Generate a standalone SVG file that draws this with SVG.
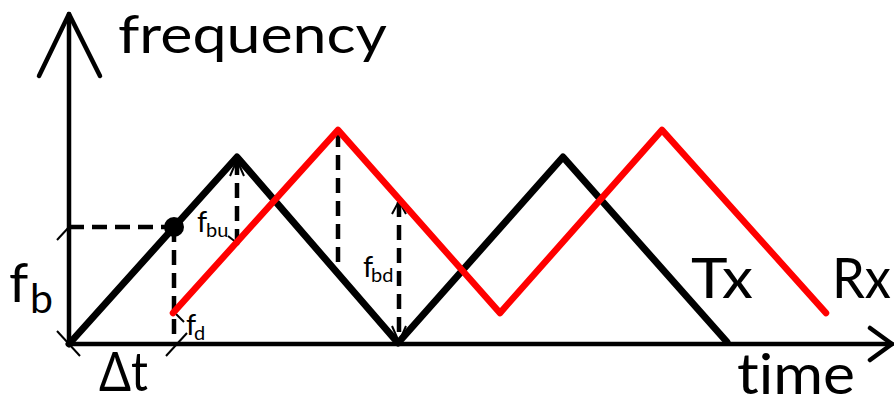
<svg xmlns="http://www.w3.org/2000/svg" width="894" height="398" viewBox="0 0 894 398">
<style>
.ax{fill:none;stroke:#000;stroke-width:4.5;stroke-linecap:round;stroke-linejoin:round}
.tx{fill:none;stroke:#000;stroke-width:7;stroke-linejoin:round;stroke-linecap:round}
.rx{fill:none;stroke:#f00;stroke-width:6.5;stroke-linejoin:round;stroke-linecap:round}
.da{fill:none;stroke:#000;stroke-width:4.5;stroke-dasharray:15 8}
.th{fill:none;stroke:#000;stroke-width:2}
.lb{font-family:Lato,"Open Sans",sans-serif;fill:#000;font-variant-ligatures:none}
</style>
<rect width="894" height="398" fill="#fff"/>
<g id="axes">
<polyline class="ax" points="69,344 69,14"/>
<polyline class="ax" points="39,76 69,14 100,76"/>
<polyline class="ax" points="69,344 892,344"/>
<polyline class="ax" points="870,328 892,344 870,360"/>
</g>
<g id="connectors">
<polyline class="da" points="69,227 174,227"/>
<polyline class="da" points="174,227 174,344"/>
<polyline class="da" points="237,160 237,242"/>
<polyline class="da" points="338,132 338,264"/>
<polyline class="da" points="399,202 399,342"/>
<polyline class="th" points="230,176 237,160 244,176"/>
<polyline class="th" points="392,214 399,201 406,214"/>
<polyline class="th" points="392,326 399,342 406,326"/>
<line class="th" x1="57" y1="240" x2="69" y2="227"/>
<line class="th" x1="57" y1="331" x2="80" y2="356"/>
<line class="th" x1="166" y1="356" x2="187" y2="333"/>
<line class="th" x1="228" y1="236" x2="237" y2="243"/>
<circle cx="237" cy="243" r="2.5" fill="#000"/>
<line class="th" x1="176" y1="314" x2="184" y2="322"/>
</g>
<g id="tx">
<polyline class="tx" points="69,344 237,157 398,343 563,157 727,342"/>
</g>
<g id="rx">
<polyline class="rx" points="173,313 338,130 500,313 662,130 826,313"/>
</g>
<g id="point">
<circle cx="174" cy="227" r="10" fill="#000"/>
</g>
<g id="labels">
<text class="lb" x="118" y="53" font-size="52" textLength="269" lengthAdjust="spacingAndGlyphs">frequency</text>
<text class="lb" x="9" y="302" font-size="55">f<tspan x="30" dy="11" font-size="41">b</tspan></text>
<text class="lb" x="99" y="391" font-size="54" textLength="49" lengthAdjust="spacingAndGlyphs">Δt</text>
<text class="lb" x="737" y="394" font-size="57" textLength="118" lengthAdjust="spacingAndGlyphs">time</text>
<text class="lb" x="691" y="298" font-size="56" textLength="62" lengthAdjust="spacingAndGlyphs">Tx</text>
<text class="lb" x="832" y="298" font-size="56" textLength="59" lengthAdjust="spacingAndGlyphs">Rx</text>
<text class="lb" x="197" y="232" font-size="29">f<tspan x="206" dy="5" font-size="20">bu</tspan></text>
<text class="lb" x="186" y="335" font-size="29">f<tspan x="194" dy="5" font-size="20">d</tspan></text>
<text class="lb" x="363" y="277" font-size="29">f<tspan x="371" dy="5" font-size="20">bd</tspan></text>
</g>
</svg>
